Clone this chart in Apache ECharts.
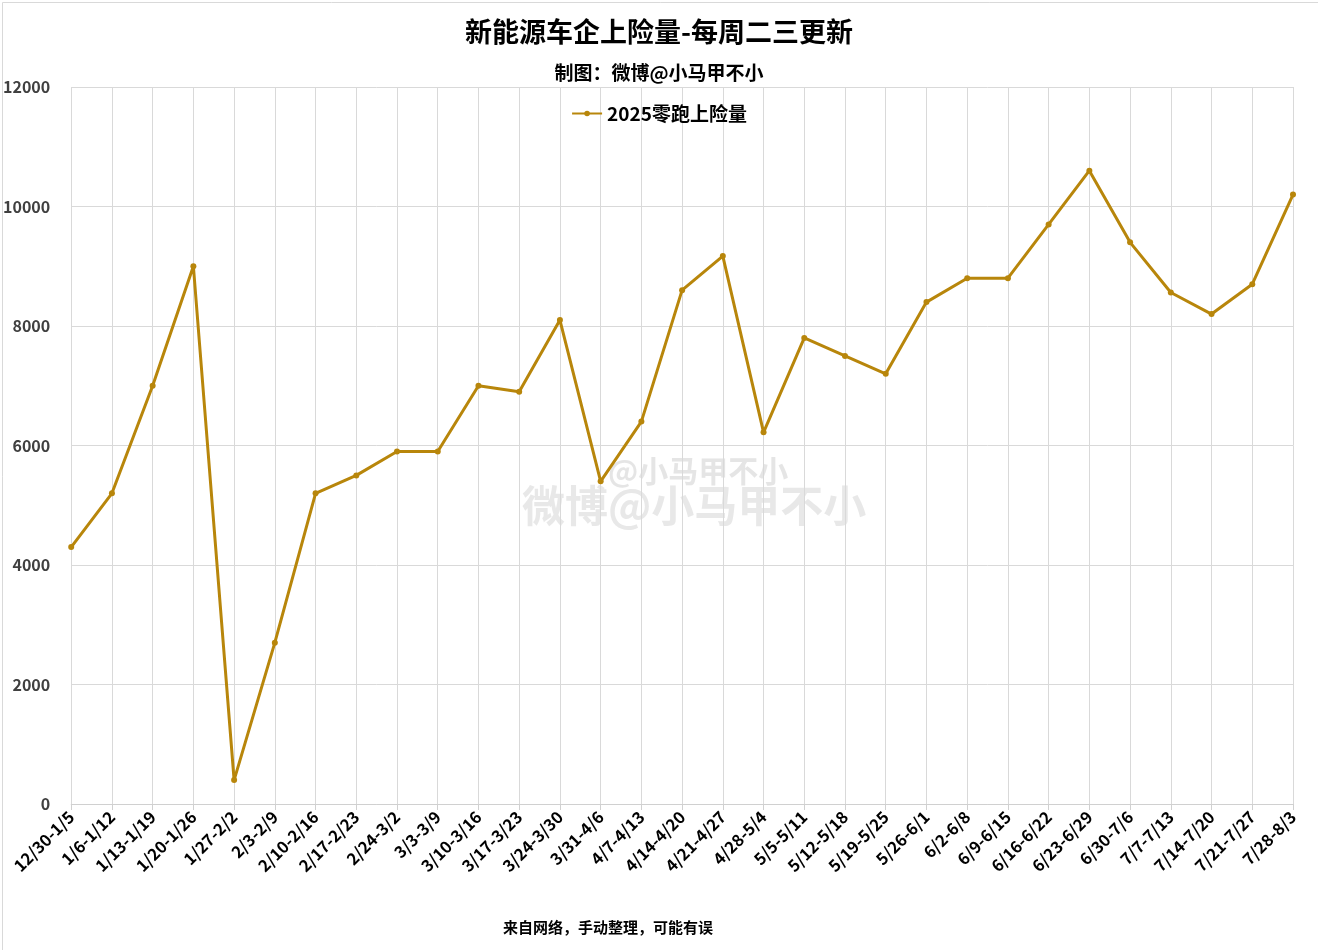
<!DOCTYPE html>
<html><head><meta charset="utf-8">
<script src="https://cdn.jsdelivr.net/npm/echarts@6/dist/echarts.min.js"></script>
<style>html,body{margin:0;padding:0;background:#fff}#c{width:1318px;height:950px}</style>
</head><body><div id="c"></div>
<script>
const categories = ['12/30-1/5','1/6-1/12','1/13-1/19','1/20-1/26','1/27-2/2','2/3-2/9','2/10-2/16','2/17-2/23','2/24-3/2','3/3-3/9','3/10-3/16','3/17-3/23','3/24-3/30','3/31-4/6','4/7-4/13','4/14-4/20','4/21-4/27','4/28-5/4','5/5-5/11','5/12-5/18','5/19-5/25','5/26-6/1','6/2-6/8','6/9-6/15','6/16-6/22','6/23-6/29','6/30-7/6','7/7-7/13','7/14-7/20','7/21-7/27','7/28-8/3'];
const leapValues = [4300,5200,7000,9000,400,2700,5200,5500,5900,5900,7000,6900,8100,5400,6400,8600,9170,6220,7800,7500,7200,8400,8800,8800,9700,10600,9400,8560,8200,8700,10200];
const seriesName = '2025零跑上险量';
const titleText = '新能源车企上险量-每周二三更新';
const subtitleText = '制图：微博@小马甲不小';
const footerText = '来自网络，手动整理，可能有误';

const FONT = '"Noto Sans CJK SC", "Noto Sans", sans-serif';
const chart = echarts.init(document.getElementById('c'));
chart.setOption({
  backgroundColor: '#fff',
  animation: false,
  textStyle: { fontFamily: FONT },
  title: [
    { text: titleText, left: 'center', top: 13, textStyle: { fontSize: 27, fontWeight: 'bold', color: '#000', fontFamily: FONT } },
    { text: subtitleText, left: 'center', top: 58, textStyle: { fontSize: 19, fontWeight: 'bold', color: '#000', fontFamily: FONT } },
    { text: footerText, left: 498, top: 915, textStyle: { fontSize: 15, fontWeight: 'bold', color: '#000', fontFamily: FONT } }
  ],
  legend: {
    top: 99, left: 'center', itemWidth: 30, itemHeight: 7, itemGap: 4,
    textStyle: { fontSize: 19, fontWeight: 'bold', color: '#000', fontFamily: FONT },
    data: [seriesName]
  },
  grid: { left: 70, right: 25, top: 87, bottom: 146, containLabel: false },
  xAxis: {
    type: 'category', boundaryGap: false, data: categories,
    axisLine: { lineStyle: { color: '#d0d0d0', width: 1 } },
    axisTick: { show: true, alignWithLabel: true, length: 6, lineStyle: { color: '#d0d0d0' } },
    splitLine: { show: true, lineStyle: { color: '#d9d9d9', width: 1 } },
    axisLabel: { interval: 0, rotate: 45, fontSize: 16.5, fontWeight: 'bold', color: '#000', margin: 10, fontFamily: FONT }
  },
  yAxis: {
    type: 'value', min: 0, max: 12000, interval: 2000,
    axisLine: { show: false }, axisTick: { show: false },
    splitLine: { show: true, lineStyle: { color: '#d9d9d9', width: 1 } },
    axisLabel: { fontSize: 16, fontWeight: 'bold', color: '#404040', margin: 21, fontFamily: FONT, formatter: function (v) { return String(v); } }
  },
  series: [{
    name: seriesName, type: 'line', data: leapValues,
    symbol: 'circle', symbolSize: 6, showSymbol: true,
    lineStyle: { color: '#B8860B', width: 3 },
    itemStyle: { color: '#B8860B' }
  }],
  graphic: [
    { type: 'rect', left: 0, top: 0, shape: { width: 1317, height: 949 }, style: { fill: 'none', stroke: '#d9d9d9', lineWidth: 1 }, silent: true },
    { type: 'text', left: 608, top: 456, style: { text: '@小马甲不小', fontSize: 30, fontWeight: 'bold', fill: 'rgba(180,180,180,0.35)', fontFamily: FONT }, silent: true },
    { type: 'text', left: 522, top: 484, style: { text: '微博@小马甲不小', fontSize: 43, fontWeight: 'bold', fill: 'rgba(180,180,180,0.3)', fontFamily: FONT }, silent: true }
  ]
});
</script></body></html>
